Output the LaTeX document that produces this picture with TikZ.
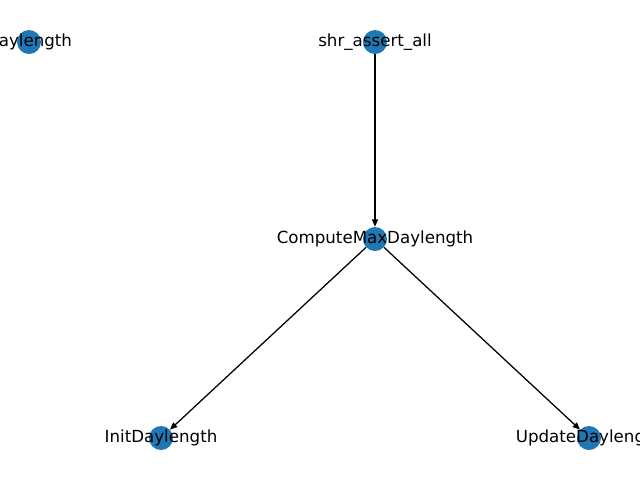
\documentclass[tikz,border=0pt]{standalone}
\usepackage{fontspec}
\setmainfont{DejaVu Sans}
\usetikzlibrary{arrows.meta}
\definecolor{nodeblue}{HTML}{1F77B4}
\tikzset{
  dot/.style={circle, fill=nodeblue, draw=none, inner sep=0pt, minimum size=18pt},
  lbl/.style={inner sep=0pt, font=\fontsize{12.5}{15}\selectfont, text=black},
  edge/.style={draw=black, line width=0.95pt, -{Triangle[length=5.5pt,width=4.5pt]}}
}
\begin{document}
\begin{tikzpicture}[x=0.75pt,y=-0.75pt]
\useasboundingbox (0,0) rectangle (640,480);
\begin{scope}
\clip (0,0) rectangle (640,480);
\node[dot] (d) at (29,42) {};
\node[dot] (s) at (375,42) {};
\node[dot] (c) at (375,239) {};
\node[dot] (i) at (161,438) {};
\node[dot] (u) at (589,438) {};
\draw[edge] (s) -- (c);
\draw[edge] (c) -- (i);
\draw[edge] (c) -- (u);
\node[lbl] (ld) at (29,42) {Daylength};
\node[lbl] (ls) at (375,42) {shr\_assert\_all};
\node[lbl] (lc) at (375,239) {ComputeMaxDaylength};
\node[lbl] (li) at (161,438) {InitDaylength};
\node[lbl] (lu) at (589,438) {UpdateDaylength};
\end{scope}
\end{tikzpicture}
\end{document}
